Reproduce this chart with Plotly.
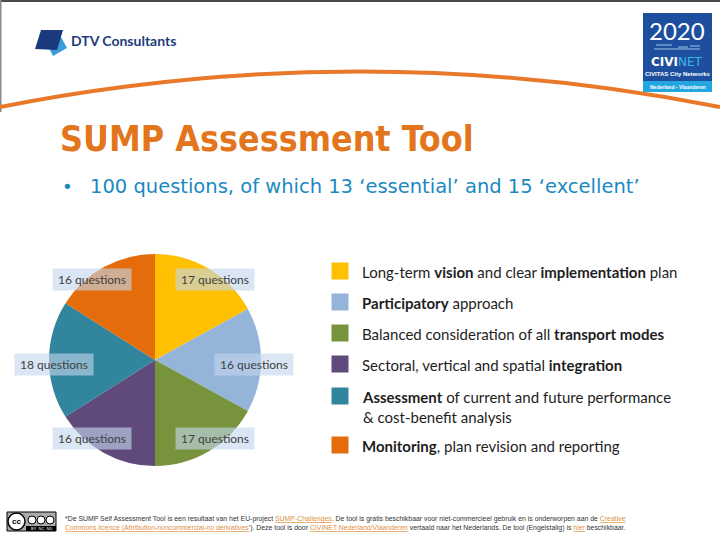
import plotly.graph_objects as go

# ---------------- data ----------------
categories = [
    "Long-term vision and clear implementation plan",
    "Participatory approach",
    "Balanced consideration of all transport modes",
    "Sectoral, vertical and spatial integration",
    "Assessment of current and future performance & cost-benefit analysis",
    "Monitoring, plan revision and reporting",
]
legend_texts = [
    "Long-term <b>vision</b> and clear <b>implementation</b> plan",
    "<b>Participatory</b> approach",
    "Balanced consideration of all <b>transport modes</b>",
    "Sectoral, vertical and spatial <b>integration</b>",
    "<b>Assessment</b> of current and future performance<br>&amp; cost-benefit analysis",
    "<b>Monitoring</b>, plan revision and reporting",
]
question_counts = [17, 16, 17, 16, 18, 16]
colors = ["#FEC000", "#94B4D9", "#77933C", "#604A7B", "#31859C", "#E46C0A"]

title_text = "SUMP Assessment Tool"
bullet_text = "100 questions, of which 13 ‘essential’ and 15 ‘excellent’"

W, H = 720, 540


def px(x):
    return x / W


def py(y):
    return 1 - y / H


fig = go.Figure()

# pie: centre (155, 360), radius 106
fig.add_trace(go.Pie(
    values=question_counts,
    labels=categories,
    marker=dict(colors=colors, line=dict(width=0)),
    sort=False,
    direction="clockwise",
    rotation=0,
    textinfo="none",
    hoverinfo="skip",
    showlegend=False,
    domain=dict(x=[px(49), px(261)], y=[py(466), py(254)]),
))

shapes = []
annotations = []

# ---------- header frame ----------
shapes.append(dict(type="rect", xref="paper", yref="paper",
                   x0=0, x1=1, y0=py(2), y1=py(0),
                   fillcolor="#4a4a4a", line=dict(width=0), layer="above"))
shapes.append(dict(type="rect", xref="paper", yref="paper",
                   x0=0, x1=px(1.5), y0=py(112), y1=py(0),
                   fillcolor="#8a8a8a", line=dict(width=0), layer="above"))
# orange arc
shapes.append(dict(type="path", xref="paper", yref="paper",
                   path=f"M {px(0)},{py(107)} Q {px(360)},{py(36)} {px(720)},{py(107)}",
                   line=dict(color="#E8782A", width=4)))

# ---------- DTV logo ----------
shapes.append(dict(type="path", xref="paper", yref="paper",
                   path=(f"M {px(47)},{py(44)} L {px(61)},{py(37)} L {px(67)},{py(48)} "
                         f"L {px(53)},{py(56)} Z"),
                   fillcolor="#3B9BDB", line=dict(width=0)))
shapes.append(dict(type="path", xref="paper", yref="paper",
                   path=(f"M {px(41)},{py(30)} L {px(63)},{py(30)} L {px(57)},{py(50)} "
                         f"L {px(35)},{py(49)} Z"),
                   fillcolor="#1A3A7E", line=dict(width=0)))
annotations.append(dict(xref="paper", yref="paper", x=px(69), y=py(40),
                        xanchor="left", yanchor="middle", showarrow=False,
                        text="<b>DTV Consultants</b>",
                        font=dict(family="Lato", size=14, color="#1D3D7C")))

# ---------- CIVINET logo ----------
shapes.append(dict(type="rect", xref="paper", yref="paper",
                   x0=px(643), x1=px(712), y0=py(92), y1=py(13),
                   fillcolor="#1D4F9E", line=dict(width=0)))
shapes.append(dict(type="rect", xref="paper", yref="paper",
                   x0=px(643), x1=px(712), y0=py(92), y1=py(81),
                   fillcolor="#23A6E0", line=dict(width=0)))
# small city illustration hints
for (x0, x1, yy) in [(654, 700, 49), (656, 672, 45), (678, 688, 47), (690, 700, 46)]:
    shapes.append(dict(type="line", xref="paper", yref="paper",
                       x0=px(x0), x1=px(x1), y0=py(yy), y1=py(yy),
                       line=dict(color="#9FC3EA", width=1)))
annotations.append(dict(xref="paper", yref="paper", x=px(677), y=py(31),
                        xanchor="center", yanchor="middle", showarrow=False,
                        text="2020",
                        font=dict(family="DejaVu Sans ExtraLight, Lato", size=24, color="#FFFFFF")))
annotations.append(dict(xref="paper", yref="paper", x=px(677), y=py(62),
                        xanchor="center", yanchor="middle", showarrow=False,
                        text="<b>CIVI</b><span style='color:#3CB4EA'>NET</span>",
                        font=dict(family="DejaVu Sans", size=12, color="#FFFFFF")))
annotations.append(dict(xref="paper", yref="paper", x=px(677.5), y=py(74),
                        xanchor="center", yanchor="middle", showarrow=False,
                        text="<b>CIVITAS City Networks</b>",
                        font=dict(family="Liberation Sans Narrow, Liberation Sans", size=6, color="#FFFFFF")))
annotations.append(dict(xref="paper", yref="paper", x=px(677.5), y=py(86.5),
                        xanchor="center", yanchor="middle", showarrow=False,
                        text="<b>Nederland - Vlaanderen</b>",
                        font=dict(family="Liberation Sans", size=5, color="#FFFFFF")))

# ---------- title & bullet ----------
annotations.append(dict(xref="paper", yref="paper", x=px(58), y=py(138),
                        xanchor="left", yanchor="middle", showarrow=False,
                        text=f"<b>{title_text}</b>",
                        font=dict(family="DejaVu Sans Condensed, DejaVu Sans", size=35.5, color="#E3761C")))
annotations.append(dict(xref="paper", yref="paper", x=px(60), y=py(186),
                        xanchor="left", yanchor="middle", showarrow=False,
                        text="•",
                        font=dict(family="DejaVu Sans", size=18, color="#1A89C0")))
annotations.append(dict(xref="paper", yref="paper", x=px(88), y=py(186),
                        xanchor="left", yanchor="middle", showarrow=False,
                        text=bullet_text,
                        font=dict(family="DejaVu Sans", size=19.5, color="#1A89C0")))

# ---------- pie labels ----------
label_pos = [(214.5, 279.5), (253.5, 364.5), (214.5, 438.5),
             (92, 438.5), (53.5, 364.5), (92, 279.5)]
for cnt, (lx, ly) in zip(question_counts, label_pos):
    annotations.append(dict(xref="paper", yref="paper", x=px(lx), y=py(ly),
                            xanchor="center", yanchor="middle", showarrow=False,
                            text=f"{cnt} questions", width=74, height=17,
                            bgcolor="rgba(196,215,237,0.62)", borderpad=2,
                            font=dict(family="Lato", size=12, color="#404040")))

# ---------- legend ----------
leg_y = [271, 302, 333, 364, 396, 445]
for col, txt, yy in zip(colors, legend_texts, leg_y):
    shapes.append(dict(type="rect", xref="paper", yref="paper",
                       x0=px(331.5), x1=px(348.5), y0=py(yy + 8.5), y1=py(yy - 8.5),
                       fillcolor=col, line=dict(width=0)))
    annotations.append(dict(xref="paper", yref="paper", x=px(360), y=py(yy - 10),
                            xanchor="left", yanchor="top", showarrow=False, align="left",
                            text=txt,
                            font=dict(family="Lato", size=15, color="#1E1E1E")))

# ---------- footer ----------
shapes.append(dict(type="rect", xref="paper", yref="paper",
                   x0=px(7), x1=px(56), y0=py(531), y1=py(512),
                   fillcolor="#A9ABAE", line=dict(color="#000000", width=1)))
shapes.append(dict(type="rect", xref="paper", yref="paper",
                   x0=px(26), x1=px(56), y0=py(531), y1=py(526),
                   fillcolor="#000000", line=dict(width=0)))
shapes.append(dict(type="circle", xref="paper", yref="paper",
                   x0=px(8), x1=px(25), y0=py(530), y1=py(513),
                   fillcolor="#FFFFFF", line=dict(color="#000000", width=1.5)))
for cx in [32, 41, 50]:
    shapes.append(dict(type="circle", xref="paper", yref="paper",
                       x0=px(cx - 4), x1=px(cx + 4), y0=py(524), y1=py(516),
                       fillcolor="#FFFFFF", line=dict(color="#000000", width=1)))
annotations.append(dict(xref="paper", yref="paper", x=px(16.5), y=py(521.5),
                        xanchor="center", yanchor="middle", showarrow=False,
                        text="<b>cc</b>",
                        font=dict(family="Liberation Sans", size=8, color="#000000")))
annotations.append(dict(xref="paper", yref="paper", x=px(41), y=py(528.5),
                        xanchor="center", yanchor="middle", showarrow=False,
                        text="BY  NC  ND",
                        font=dict(family="Liberation Sans", size=4, color="#FFFFFF")))

link = "<span style='color:#E0913F'><u>{}</u></span>"
foot1 = ("*De SUMP Self Assessment Tool is een resultaat van het EU-project "
         + link.format("SUMP-Challenges")
         + ". De tool is gratis beschikbaar voor niet-commercieel gebruik en is onderworpen aan de "
         + link.format("Creative"))
foot2 = (link.format("Commons licence (Attribution-noncommercial-no derivatives")
         + "'). Deze tool is door "
         + link.format("CIVINET Nederland/Vlaanderen")
         + " vertaald naar het Nederlands. De tool (Engelstalig) is "
         + link.format("hier") + " beschikbaar.")
for txt, yy in [(foot1, 519), (foot2, 527.5)]:
    annotations.append(dict(xref="paper", yref="paper", x=px(63), y=py(yy),
                            xanchor="left", yanchor="middle", showarrow=False,
                            text=txt,
                            font=dict(family="Liberation Sans", size=6.9, color="#333333")))

fig.update_layout(
    width=W, height=H,
    margin=dict(l=0, r=0, t=0, b=0),
    paper_bgcolor="#FFFFFF",
    plot_bgcolor="#FFFFFF",
    shapes=shapes,
    annotations=annotations,
    showlegend=False,
)

fig.write_html("out.html")
